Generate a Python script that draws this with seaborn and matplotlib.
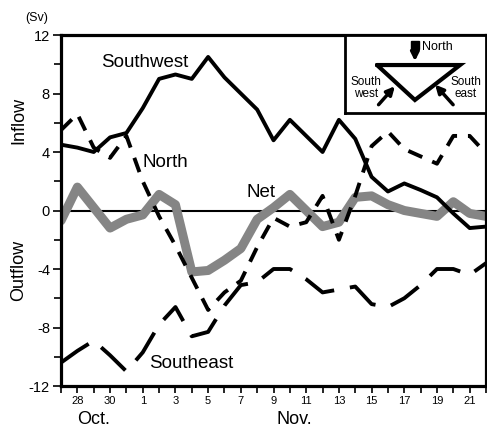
import matplotlib
matplotlib.use("Agg")
import matplotlib.pyplot as plt
from matplotlib.ticker import MultipleLocator
import seaborn as sns

# day index: 0 = Oct 27 ... 5 = Nov 1 ... 26 = Nov 22
days = list(range(27))
southwest = [4.5, 4.3, 4.0, 5.0, 5.3, 7.0, 9.0, 9.3, 9.0, 10.5, 9.1, 8.0, 6.9, 4.8,
             6.2, 5.1, 4.0, 6.2, 4.9, 2.3, 1.3, 1.85, 1.4, 0.9, -0.2, -1.2, -1.1]
north = [5.5, 6.6, 4.3, 3.6, 5.1, 2.0, -0.4, -2.4, -4.6, -6.8, -5.6, -4.8, -2.5, -0.5,
         -1.1, -0.8, 1.0, -2.0, 1.0, 4.4, 5.4, 4.2, 3.7, 3.2, 5.1, 5.1, 3.9]
southeast = [-10.4, -9.6, -8.9, -9.9, -11.0, -9.7, -7.8, -6.6, -8.6, -8.3, -6.5, -5.1, -4.9, -4.0,
             -4.0, -4.7, -5.6, -5.4, -5.2, -6.4, -6.6, -6.0, -5.1, -4.0, -4.0, -4.4, -3.6]
net = [-0.7, 1.6, 0.2, -1.2, -0.6, -0.3, 1.1, 0.4, -4.2, -4.1, -3.4, -2.6, -0.6, 0.2,
       1.1, 0.0, -1.1, -0.8, 0.9, 1.0, 0.4, 0.0, -0.2, -0.4, 0.6, -0.2, -0.4]

day_labels = ['', '28', '', '30', '', '1', '', '3', '', '5', '', '7', '', '9', '',
              '11', '', '13', '', '15', '', '17', '', '19', '', '21', '']
y_ticks = [-12, -8, -4, 0, 4, 8, 12]

sns.set_style("ticks", {'axes.edgecolor': 'black', 'xtick.color': 'black',
                        'ytick.color': 'black', 'text.color': 'black'})
plt.rcParams['font.family'] = ['Liberation Sans', 'DejaVu Sans']

fig = plt.figure(figsize=(4.87, 4.30), dpi=100)
ax = fig.add_axes([0.1253, 0.1023, 0.8727, 0.8163])

ax.axhline(0, color='black', lw=1.5, zorder=1)
sns.lineplot(x=days, y=net, ax=ax, color='#858585', lw=6.5, zorder=2)
sns.lineplot(x=days, y=southwest, ax=ax, color='black', lw=2.8, zorder=3)
sns.lineplot(x=days, y=north, ax=ax, color='black', lw=2.8, zorder=3,
             linestyle=(0, (3.9, 2.8)))
sns.lineplot(x=days, y=southeast, ax=ax, color='black', lw=2.8, zorder=3,
             linestyle=(0, (8.6, 4.1)))

ax.set_xlim(0, 25.9)
ax.set_ylim(-12, 12)
ax.set_xticks(days)
ax.set_xticklabels(day_labels, fontsize=8, color='black')
ax.set_yticks(y_ticks)
ax.set_yticklabels([str(v) for v in y_ticks], fontsize=10.5, color='black')
ax.yaxis.set_minor_locator(MultipleLocator(2))
ax.tick_params(axis='y', which='major', length=6, width=1.2, pad=2, color='black')
ax.tick_params(axis='y', which='minor', length=5, width=1.2, color='black')
ax.tick_params(axis='x', length=5, width=1.2, pad=2, color='black')
for s in ax.spines.values():
    s.set_linewidth(2.3)
    s.set_color('black')
    s.set_visible(True)
ax.set_xlabel('')
ax.set_ylabel('')

# series labels
ax.text(5.1, 9.8, 'Southwest', fontsize=13.5, ha='center', va='baseline')
ax.text(5.0, 2.95, 'North', fontsize=13.5, ha='left', va='baseline')
ax.text(12.25, 0.9, 'Net', fontsize=13.5, ha='center', va='baseline')
ax.text(7.96, -10.75, 'Southeast', fontsize=13.5, ha='center', va='baseline')

# month labels
trans = ax.get_xaxis_transform()
ax.text(2.0, -0.095, 'Oct.', fontsize=13, ha='center', va='center', transform=trans)
ax.text(14.3, -0.095, 'Nov.', fontsize=13, ha='center', va='center', transform=trans)

fig.text(37 / 487, 1 - 18 / 430, '(Sv)', fontsize=9, ha='center', va='center')
fig.text(19 / 487, 1 - 120 / 430, 'Inflow', fontsize=13, rotation=90, ha='center', va='center')
fig.text(19 / 487, 1 - 270 / 430, 'Outflow', fontsize=13, rotation=90, ha='center', va='center')

# inset schematic
ins = fig.add_axes([0.7084, 0.7372, 0.2895, 0.1814], zorder=5)
ins.set_xlim(0, 1)
ins.set_ylim(0, 1)
ins.set_xticks([])
ins.set_yticks([])
ins.set_facecolor('white')
for s in ins.spines.values():
    s.set_linewidth(2)
    s.set_color('black')
ins.plot([0.227, 0.816, 0.496, 0.227], [0.615, 0.615, 0.167, 0.615],
         color='black', lw=3, solid_joinstyle='miter')
ins.plot([0.496], [0.872], marker='s', color='black', ms=6)
arrow = dict(arrowstyle='-|>', lw=2.5, color='black', mutation_scale=12)
ins.annotate('', xy=(0.496, 0.63), xytext=(0.496, 0.86), arrowprops=arrow)
ins.annotate('', xy=(0.367, 0.37), xytext=(0.225, 0.08), arrowprops=arrow)
ins.annotate('', xy=(0.626, 0.39), xytext=(0.780, 0.08), arrowprops=arrow)
ins.text(0.546, 0.846, 'North', fontsize=9, ha='left', va='center')
ins.text(0.149, 0.32, 'South\nwest', fontsize=8.5, ha='center', va='center', linespacing=0.9)
ins.text(0.858, 0.32, 'South\neast', fontsize=8.5, ha='center', va='center', linespacing=0.9)

fig.savefig('out.png', dpi=100)
